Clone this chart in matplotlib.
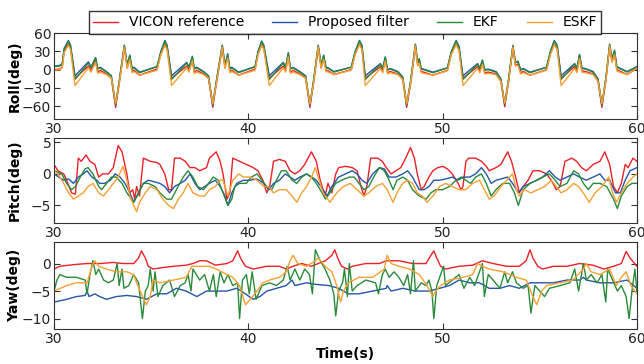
import numpy as np
import matplotlib.pyplot as plt

# ---- data ----
labels = ['VICON reference', 'Proposed filter', 'EKF', 'ESKF']
colors = ['#ec2027', '#2656a8', '#2a8a3a', '#f7a032']

roll_t = [30.0, 30.3, 30.42, 30.52, 30.74, 30.85, 31.08, 31.77, 31.9, 32.14, 32.25, 32.37, 32.7, 32.95, 33.17, 33.35, 33.62, 33.77, 33.9, 34.02, 34.12, 34.4, 35.3, 35.5,
          35.71, 35.82, 36.05, 36.83, 36.95, 37.12, 37.22, 37.35, 37.7, 37.95, 38.17, 38.35, 38.66, 38.8, 38.94, 39.05, 39.15, 39.5, 40.35, 40.5,
          40.69, 40.8, 41.08, 41.8, 41.92, 42.06, 42.17, 42.3, 42.65, 42.95, 43.17, 43.35, 43.6, 43.75, 43.88, 44.0, 44.12, 44.4, 45.3, 45.5,
          45.72, 45.85, 46.02, 46.8, 46.92, 47.05, 47.17, 47.3, 47.7, 47.95, 48.15, 48.35, 48.6, 48.72, 48.8, 48.9, 49.02, 49.5, 50.25, 50.45,
          50.7, 50.85, 51.05, 51.8, 51.92, 52.05, 52.17, 52.35, 52.75, 53.0, 53.2, 53.4, 53.62, 53.75, 53.88, 54.02, 54.15, 54.5, 55.35, 55.55,
          55.75, 55.9, 56.1, 56.8, 56.92, 57.05, 57.17, 57.35, 57.75, 58.0, 58.2, 58.4, 58.6, 58.72, 58.85, 58.97, 59.1, 59.5, 60.0]
roll_vicon = [0, 1, 4, 30, 42, 35, -14, 6, -1, 15, -4, -1, -7, -14, -62, -24, 36, 3, 19, -3, -1, -9, 1, 26,
              42, 35, -14, 6, -1, 17, -4, -1, -7, -14, -62, -24, 36, 3, 21, -3, -1, -9, 1, 26,
              41, 35, -14, 6, -1, 23, -4, -1, -7, -14, -62, -24, 36, 3, 19, -1, -2, -8, 0, 26,
              42, 35, -14, 5, -2, 16, -5, -3, -7, -16, -62, -24, 38, 7, 13, -3, -4, -9, -1, 26,
              42, 33, -14, 5, -2, 11, -5, -4, -7, -19, -61, -19, 36, 7, 9, -5, -3, -9, 0, 26,
              42, 35, -14, 5, -2, 20, -2, -3, -7, -19, -62, -19, 38, 13, 27, 0, -2, -8, 2]
roll_prop = [6, 7, 10, 35, 48, 40, -10, 13, 4, 20, 2, 4, -3, -10, -58, -20, 40, 8, 24, 2, 4, -4, 5, 30,
             48, 40, -10, 12, 4, 22, 2, 4, -3, -10, -58, -20, 40, 8, 26, 2, 4, -4, 5, 30,
             47, 40, -10, 12, 4, 28, 2, 4, -3, -10, -58, -20, 40, 8, 24, 4, 3, -3, 4, 30,
             48, 40, -10, 10, 3, 21, 0, 2, -3, -12, -58, -20, 42, 12, 18, 2, 1, -4, 3, 30,
             48, 38, -10, 10, 3, 16, 0, 1, -3, -15, -57, -15, 40, 12, 14, 0, 2, -4, 4, 30,
             48, 40, -10, 10, 3, 25, 3, 2, -3, -15, -58, -15, 42, 18, 32, 5, 3, -3, 5]
roll_ekf = [5, 6, 9, 33, 47, 39, -16, 11, 3, 19, 1, 3, -4, -11, -57, -20, 40, 7, 23, 1, 3, -5, 5, 29,
            47, 39, -16, 11, 3, 21, 1, 3, -4, -11, -57, -20, 40, 7, 25, 1, 3, -5, 5, 29,
            46, 39, -16, 11, 3, 27, 1, 3, -4, -11, -57, -20, 39, 7, 23, 3, 2, -4, 4, 29,
            47, 39, -16, 9, 2, 20, -1, 1, -4, -13, -57, -20, 41, 11, 17, 1, 0, -5, 3, 29,
            47, 37, -16, 9, 2, 15, -1, 0, -4, -16, -56, -15, 39, 11, 13, -1, 1, -5, 4, 29,
            47, 39, -16, 9, 2, 24, 2, 1, -4, -16, -57, -15, 41, 17, 31, 4, 2, -4, 5]
roll_eskf = [-1, 0, 3, 28, 40, 33, -26, 3, -4, 12, -6, -4, -8, -14, -56, -24, 37, 2, 17, -5, -3, -9, -1, 25,
             40, 33, -26, 3, -4, 15, -6, -4, -8, -14, -56, -24, 37, 2, 19, -5, -3, -9, -1, 25,
             40, 33, -26, 3, -4, 21, -6, -4, -8, -14, -56, -24, 37, 2, 17, -3, -4, -8, -1, 25,
             41, 33, -26, 2, -5, 14, -7, -5, -8, -16, -56, -24, 39, 6, 11, -5, -6, -9, -2, 25,
             41, 31, -26, 2, -5, 9, -7, -6, -8, -19, -55, -19, 37, 6, 7, -7, -5, -9, -1, 25,
             41, 33, -26, 2, -5, 18, -4, -5, -8, -19, -56, -19, 39, 12, 25, -2, -4, -8, 2]

# (time, value) pairs
pitch_vicon = [(30.0, 1.5), (30.2, 0.5), (30.5, 0), (30.65, -1), (30.9, -3), (31.1, -3.2), (31.25, 2.5), (31.4, 2.0),
               (31.65, 3.0), (31.85, 2.0), (32.1, 1.5), (32.3, -0.5), (32.5, 0), (32.8, 0), (33.05, 1.0), (33.3, 4.5),
               (33.5, 3.5), (33.75, 0), (33.9, -3), (34.05, -2.5), (34.15, -4), (34.25, -2), (34.4, -3.5), (34.6, 2.5),
               (34.95, 2), (35.3, 1.8), (35.45, 1.5), (35.7, 0), (35.9, -2.5), (36.05, -2.5), (36.2, 2.5), (36.5, 2.5),
               (36.75, 2.0), (37.0, 1.0), (37.25, 1.0), (37.5, 0.5), (37.85, 1.0), (38.0, 2.5), (38.35, 3.5), (38.55, 2),
               (38.7, 0), (38.9, -4), (39.05, -3), (39.2, 2.5), (39.55, 2), (39.9, 1.5), (40.25, 1.0), (40.5, 0.5),
               (40.75, -1), (40.95, -3), (41.1, -2), (41.3, 2), (41.6, 2.3), (41.9, 2.0), (42.15, 0.5), (42.4, 0),
               (42.65, 0.5), (42.9, 1.5), (43.25, 3.5), (43.5, 2.0), (43.7, -1), (43.95, -3.5), (44.1, -1.5), (44.3, -3),
               (44.5, 0), (44.65, 1.0), (45.0, 1.2), (45.35, 1.0), (45.6, 0.5), (45.8, -2), (45.95, -3.5), (46.1, -2),
               (46.3, 2.5), (46.65, 2.5), (46.9, 2.0), (47.1, 1.0), (47.35, 0), (47.6, 0.5), (47.85, 1.0), (48.1, 2.5),
               (48.35, 4.2), (48.55, 2.5), (48.7, 0), (48.9, -2.5), (49.05, -2), (49.3, -0.5), (49.5, 0.5), (49.75, 1.0),
               (50.0, 1.2), (50.25, 0.8), (50.5, 0), (50.8, -1.5), (50.95, -2.5), (51.05, -2.0), (51.2, 2.0), (51.35, 2.5),
               (51.7, 2.5), (52.0, 2.0), (52.25, 1.2), (52.4, 0.5), (52.75, 1.0), (53.0, 1.5), (53.35, 3.5), (53.55, 2.0),
               (53.8, -1), (53.95, -3), (54.15, -2), (54.4, -1), (54.65, 0.5), (55.0, 0.5), (55.35, 0), (55.6, -1),
               (55.85, -2.5), (56.05, -2), (56.3, 2.0), (56.65, 2.5), (56.9, 2.0), (57.15, 1.0), (57.4, 0.5), (57.75, 1.5),
               (58.1, 2.0), (58.35, 3.5), (58.6, 1.5), (58.8, -2), (59.0, -3), (59.2, -1.5), (59.4, 1.5), (59.55, 1.0),
               (59.8, 2.5), (60.0, 2.0)]
pitch_prop = [(30.0, 0), (30.5, -1), (30.75, -0.8), (31.0, -1.5), (31.25, -0.5), (31.5, 0), (31.7, 0.5), (31.95, -0.5),
              (32.2, -1), (32.35, -1.5), (32.6, -1.5), (32.9, -1), (33.15, 0), (33.4, -0.5), (33.65, -1.5), (33.9, -3),
              (34.1, -4.5), (34.35, -3), (34.6, -1.5), (34.85, -1), (35.1, -1.2), (35.45, -1.5), (35.7, -2), (35.95, -3),
              (36.2, -2), (36.5, -1.5), (36.75, -1), (37.0, 0), (37.25, -1.5), (37.5, -2.5), (37.75, -2), (38.0, -1.5),
              (38.3, -1), (38.55, -2), (38.8, -3.5), (38.95, -5), (39.15, -3), (39.4, -1.5), (39.75, -1), (40.1, -1),
              (40.45, -0.8), (40.8, -1.5), (41.05, -2.5), (41.3, -1.5), (41.6, -1), (41.9, 0), (42.15, -0.5), (42.4, -1),
              (42.65, -0.5), (43.0, 0), (43.25, -0.5), (43.5, -1), (43.85, -2.5), (44.05, -3.5), (44.3, -2), (44.65, -0.5),
              (45.0, 0), (45.35, 0.5), (45.6, 0), (45.85, -1), (46.1, -1.5), (46.4, 0), (46.75, 1.0), (47.0, 0.8),
              (47.25, -0.5), (47.6, -0.5), (47.95, 0), (48.2, 0.5), (48.45, -0.5), (48.8, -2.5), (49.05, -2.5), (49.3, -2),
              (49.55, -1), (49.85, -1), (50.15, -0.8), (50.5, -0.5), (50.8, -1), (51.05, -0.5), (51.4, -0.5), (51.7, 0),
              (52.0, 1.0), (52.25, 0), (52.5, -1.5), (52.75, -1), (53.0, -0.8), (53.35, -0.5), (53.6, -1.5), (53.9, -3),
              (54.15, -2), (54.5, -1.5), (54.85, -1), (55.15, -0.5), (55.5, 0.5), (55.8, -0.5), (56.05, -1), (56.4, -0.5),
              (56.75, 0), (57.05, -0.5), (57.4, -1.0), (57.75, -0.5), (58.1, 0), (58.35, -1), (58.6, -1), (58.9, -3),
              (59.15, -3), (59.4, -1), (59.65, 0.5), (60.0, 1.0)]
pitch_ekf = [(30.0, 0.5), (30.4, 0), (30.65, -1.5), (30.9, -2.5), (31.1, -2), (31.35, -0.5), (31.6, 0.8), (31.75, 1.0),
             (32.0, 0), (32.3, -2), (32.45, -2.5), (32.7, -1.5), (32.95, -0.5), (33.2, -0.5), (33.5, -1.5), (33.75, -3),
             (34.1, -4.5), (34.35, -3), (34.6, -1.5), (34.85, -1.5), (35.2, -2), (35.45, -3), (35.8, -4), (36.05, -4),
             (36.3, -2.5), (36.65, -0.5), (36.9, 0.5), (37.15, -0.5), (37.4, -2), (37.7, -2.5), (37.95, -1.5), (38.2, -0.5),
             (38.45, -1), (38.7, -3), (38.95, -5), (39.15, -4), (39.3, -2), (39.55, -1.5), (39.9, -1.5), (40.15, -0.5),
             (40.45, 0), (40.7, -1), (40.95, -2), (41.2, -2.5), (41.45, -1), (41.7, 0.5), (41.95, 0.5), (42.25, -1),
             (42.5, -1.5), (42.75, -0.5), (43.0, 0), (43.25, -0.5), (43.5, -1.5), (43.8, -3), (43.97, -4), (44.2, -3),
             (44.5, -1.5), (44.8, -1), (45.2, -0.5), (45.45, -0.5), (45.7, -1.5), (45.95, -2.5), (46.2, -2), (46.45, -0.5),
             (46.75, 1.0), (47.0, 0.5), (47.25, -1), (47.45, -2.5), (47.65, -1), (47.95, -0.5), (48.2, -1), (48.45, -2.5),
             (48.8, -3.5), (49.15, -4), (49.4, -3), (49.65, -2.5), (50.0, -2.5), (50.35, -2), (50.7, -1), (50.95, -0.5),
             (51.2, -1), (51.45, -1.5), (51.7, -0.5), (52.0, 0), (52.25, -1.5), (52.5, -3.5), (52.75, -2.5), (53.1, -1.5),
             (53.45, -1.5), (53.7, -3), (53.9, -5), (54.15, -2.5), (54.5, -1.5), (54.85, -1), (55.15, -0.5), (55.5, 0),
             (55.8, -1), (56.05, -2), (56.4, -1.5), (56.75, 0.5), (57.0, 0), (57.25, -1.5), (57.5, -2.5), (57.75, -1.5),
             (58.1, -1.5), (58.45, -2), (58.8, -4), (59.0, -5.5), (59.2, -3.5), (59.5, -2), (59.75, -1.5), (60.0, -1.5)]
pitch_eskf = [(30.0, 0.5), (30.2, 0), (30.5, -1.5), (30.75, -3), (31.0, -4), (31.25, -3.5), (31.5, -3), (31.75, -2),
              (32.0, -1.5), (32.3, -3), (32.55, -3.5), (32.8, -2.5), (33.05, -1.5), (33.3, -0.5), (33.55, 1.2), (33.75, -1),
              (33.9, -3.5), (34.1, -5), (34.25, -6), (34.4, -4.5), (34.7, -3), (34.95, -2), (35.3, -2.5), (35.6, -4),
              (35.9, -5), (36.15, -5.5), (36.4, -4), (36.65, -3), (36.9, -1.5), (37.15, -3), (37.5, -3.5), (37.75, -3.5),
              (38.0, -2.5), (38.3, -2), (38.55, -1), (38.7, -1), (38.95, -3.5), (39.2, -1), (39.5, 0), (39.75, -0.5),
              (40.1, -0.5), (40.45, -1), (40.8, -2), (41.05, -2), (41.3, -3), (41.6, -2.5), (41.95, -2.5), (42.25, -3.5),
              (42.5, -4.5), (42.75, -3), (43.0, -2), (43.25, -0.5), (43.45, 1.0), (43.6, -0.5), (43.85, -3), (44.2, -4.5),
              (44.55, -3), (44.9, -2), (45.25, -1.5), (45.6, -2.5), (45.95, -3.5), (46.2, -3), (46.55, -2), (46.9, -1.5),
              (47.15, -2.5), (47.45, -4.5), (47.65, -3), (47.95, -1.5), (48.2, -1), (48.45, -1.5), (48.7, -3), (48.95, -3.5),
              (49.2, -4.5), (49.5, -3.5), (49.85, -2), (50.15, -1.5), (50.5, -2), (50.85, -2.5), (51.2, -2.5), (51.55, -1.5),
              (51.9, -1), (52.15, -2.5), (52.4, -4), (52.65, -3.5), (53.0, -2), (53.3, -1), (53.6, 0), (53.8, -2.5),
              (53.95, -3.5), (54.2, -2.5), (54.55, -3), (54.9, -2.5), (55.25, -2), (55.6, -1), (55.85, -2), (56.1, -3),
              (56.4, -2.5), (56.75, -1.5), (57.0, -2), (57.35, -3.5), (57.55, -4.5), (57.85, -3), (58.2, -2), (58.55, -0.5),
              (58.75, -3), (58.95, -4.5), (59.2, -3), (59.5, -1.5), (59.8, -0.5), (60.0, 0)]

yaw_vicon = [(30.0, -1), (30.3, -0.5), (31.0, -0.2), (31.7, 0), (32.4, 0), (33.05, 0.2), (33.55, 0), (34.1, 0),
             (34.35, 1.0), (34.5, 2.3), (34.7, 1.0), (34.85, -0.5), (35.1, -1), (35.45, -0.8), (36.15, -0.5), (36.8, -0.3),
             (37.15, 0), (37.5, 0.5), (37.85, 0.5), (38.3, -0.3), (38.9, 0), (39.2, 0.5), (39.45, 2.3), (39.6, 1.0),
             (39.85, -0.5), (40.25, -1), (40.95, -0.5), (41.6, -0.5), (41.95, -1), (42.3, -0.5), (42.75, 0), (43.25, -0.5),
             (43.6, 0), (43.97, 0.5), (44.3, 1.5), (44.45, 2.5), (44.6, 1), (44.8, -0.5), (45.1, -1), (45.35, -0.5),
             (46.05, 0), (46.75, 0), (47.1, 0.5), (47.75, 0.5), (48.45, 0), (49.15, 0), (49.4, 1.5), (49.55, 2.3),
             (49.7, 1.0), (49.9, -0.5), (50.15, -1), (50.85, -0.5), (51.55, -0.3), (52.05, 0.5), (52.6, 0), (53.3, -0.5),
             (53.95, -0.5), (54.3, 0.5), (54.5, 2.5), (54.65, 1.0), (54.9, -0.5), (55.15, -1), (55.7, -0.5), (56.4, -0.5),
             (57.05, 0), (57.75, -0.3), (58.3, -1), (58.8, -0.5), (59.2, 0), (59.45, 2.2), (59.65, 1.0), (60.0, -0.5)]
yaw_prop = [(30.0, -7), (30.65, -6.5), (31.15, -6), (31.6, -5.8), (31.7, -5), (31.8, -6), (32.1, -5.5), (32.35, -6),
            (32.7, -6.5), (33.2, -6), (33.75, -5.8), (34.25, -6), (34.75, -6.5), (35.3, -5.5), (35.8, -5.5), (36.3, -4.5),
            (36.8, -5), (37.35, -6), (37.85, -5), (38.35, -5), (38.9, -5), (39.4, -4.5), (39.85, -5.5), (40.25, -6.5),
            (40.6, -6), (40.95, -5), (41.45, -4.5), (41.95, -4), (42.25, -3), (42.4, -4), (43.0, -3.5), (43.5, -3.8),
            (44.15, -4), (44.65, -4.5), (45.15, -5.5), (45.7, -5.5), (46.4, -5), (47.1, -4.5), (47.15, -4), (47.35, -5),
            (47.95, -4.5), (48.6, -5), (49.3, -5), (49.85, -4.5), (50.35, -4), (50.85, -3), (51.4, -3.5), (51.9, -3.5),
            (52.4, -4.5), (52.95, -4.5), (53.45, -4), (53.95, -4.5), (54.5, -3.5), (55.0, -3.5), (55.7, -3.5), (56.4, -3),
            (57.05, -3), (57.25, -2.5), (57.4, -3), (58.1, -3.5), (58.8, -3.5), (59.5, -3), (60.0, -4.5)]
yaw_ekf = [(30.0, -5), (30.15, -3), (30.3, -2), (30.65, -2.5), (31.15, -2.5), (31.6, -3), (31.7, -5.5), (31.85, -2),
           (32.0, 0.5), (32.15, -2), (32.3, -1), (32.55, -3), (32.8, -3.5), (33.05, -3), (33.25, 0), (33.35, -4),
           (33.5, -1), (33.6, -4.5), (33.85, -4), (34.1, -2), (34.35, -3.5), (34.55, -10), (34.7, -5), (34.85, -4),
           (34.95, -1), (35.1, -5), (35.2, -1.5), (35.35, -6), (35.6, -4), (35.95, -3), (36.2, -6), (36.5, -4),
           (36.75, -3.5), (36.9, -2), (37.05, -5), (37.15, -1), (37.5, -3), (37.75, -2), (38.0, -5), (38.2, -2),
           (38.35, -6), (38.55, -1.5), (38.75, -3.5), (38.95, -2), (39.2, -4), (39.45, -3.5), (39.55, -10), (39.7, -3),
           (39.9, -2), (40.05, -5.5), (40.2, -1.5), (40.4, -6.5), (40.7, -4), (41.1, -3.5), (41.45, -4), (41.8, -3),
           (42.0, -0.5), (42.15, -3), (42.4, -1), (42.65, -3), (42.9, -1), (43.15, -2), (43.3, -5.5), (43.45, 2.5),
           (43.7, 0.5), (43.95, -1), (44.2, -3), (44.4, -5.5), (44.5, -9.5), (44.65, -5), (44.85, -3.5), (44.95, -1),
           (45.1, -6), (45.2, 0), (45.35, -5), (45.6, -4), (46.05, -3), (46.55, -3.5), (46.7, -5.5), (46.9, -2),
           (47.05, -1), (47.25, -2.5), (47.5, -1.5), (47.75, -2.5), (48.0, -4), (48.2, -2), (48.35, -5.5), (48.5, 0.5),
           (48.6, -5), (48.9, -3.5), (49.15, -4), (49.3, -3), (49.45, -5), (49.55, -10), (49.7, -4), (49.9, -2),
           (50.05, -0.5), (50.15, -4), (50.5, -3), (50.85, -2), (51.1, -4.5), (51.4, -2.5), (51.65, -4), (51.9, -1.5),
           (52.05, 0), (52.15, -6), (52.35, -2), (52.6, -3), (52.95, -4.5), (53.2, -1.5), (53.35, -3.5), (53.6, -1.5),
           (53.8, -3.5), (54.15, -4.5), (54.4, -4), (54.55, -9), (54.75, -4), (55.0, -5), (55.25, -6), (55.5, -4.5),
           (56.05, -4), (56.55, -3.5), (56.8, -1), (57.0, -5), (57.25, 0), (57.4, -3), (57.65, -2), (57.95, -3.5),
           (58.2, -2), (58.4, -7), (58.5, -1), (58.75, -3), (59.0, -5), (59.2, -4), (59.45, -6), (59.6, -10),
           (59.75, -5), (59.9, -1), (60.0, -5)]
yaw_eskf = [(30.0, -5), (30.65, -4), (31.15, -3.5), (31.6, -3.5), (31.7, -3.5), (31.95, -0.5), (32.1, 0.5), (32.3, -0.5),
            (32.7, -1), (33.2, -1.5), (33.75, -1.5), (34.1, -2), (34.25, -3.5), (34.5, -5.5), (34.75, -7.5), (34.95, -6),
            (35.1, -3), (35.45, -3.5), (36.15, -3), (36.8, -2.5), (37.1, -0.5), (37.35, -0.5), (37.7, -0.5), (38.0, -0.5),
            (38.35, -1), (38.9, -2), (39.2, -2.5), (39.55, -4), (39.85, -7.5), (40.1, -6.5), (40.45, -5), (40.75, -3.5),
            (41.1, -3), (41.6, -2.5), (41.95, -1.5), (42.15, 0.5), (42.3, 1.5), (42.55, 0), (43.0, -0.5), (43.45, 0.5),
            (43.6, 1.0), (43.95, -0.5), (44.3, -1.5), (44.55, -4), (44.75, -7), (44.9, -5), (45.15, -3.5), (45.7, -2.5),
            (46.4, -2.5), (47.0, -1), (47.15, 1.5), (47.35, 0), (47.75, -0.5), (48.3, -1), (48.8, -2), (49.2, -4),
            (49.5, -6), (49.65, -5), (49.9, -4), (50.35, -3), (51.05, -2.5), (51.55, -2), (51.8, 0), (52.05, -0.5),
            (52.4, -1), (53.1, -1.5), (53.8, -2.5), (54.3, -3), (54.65, -6), (54.85, -7.5), (55.1, -5), (55.35, -4),
            (56.05, -3.5), (56.7, -3), (57.25, -1), (57.4, 0), (57.65, -1.5), (58.1, -2), (58.6, -1), (58.95, -4),
            (59.2, -2.5), (59.45, -1.5), (59.7, -4), (60.0, -5.5)]

# ---- figure ----
fig = plt.figure(figsize=(6.44, 3.64), dpi=100)
ax1 = fig.add_axes([0.0839, 0.673, 0.905, 0.236])
ax2 = fig.add_axes([0.0839, 0.387, 0.905, 0.234])
ax3 = fig.add_axes([0.0839, 0.096, 0.905, 0.239])

lines = []
for vals, c, lab in zip([roll_vicon, roll_prop, roll_ekf, roll_eskf], colors, labels):
    l, = ax1.plot(roll_t, vals, color=c, lw=1.0, label=lab)
    lines.append(l)

for ser, c in zip([pitch_vicon, pitch_prop, pitch_ekf, pitch_eskf], colors):
    t, v = np.array(ser).T
    ax2.plot(t, v, color=c, lw=1.0)

for ser, c in zip([yaw_vicon, yaw_prop, yaw_ekf, yaw_eskf], colors):
    t, v = np.array(ser).T
    ax3.plot(t, v, color=c, lw=1.0)

ax1.set_ylim(-81, 60)
ax1.set_yticks([-60, -30, 0, 30, 60])
ax2.set_ylim(-7.8, 5.7)
ax2.set_yticks([-5, 0, 5])
ax3.set_ylim(-11.9, 3.9)
ax3.set_yticks([-10, -5, 0])

for ax, name in zip([ax1, ax2, ax3], ['Roll(deg)', 'Pitch(deg)', 'Yaw(deg)']):
    ax.set_xlim(30, 60)
    ax.set_xticks([30, 40, 50, 60])
    ax.tick_params(direction='in', top=True, right=True, labelsize=10, length=4, pad=2,
                   color='#333333', labelcolor='#222222')
    ax.set_ylabel(name, fontsize=10, fontweight='bold')
    ax.yaxis.set_label_coords(-0.056, 0.5)
    for s in ax.spines.values():
        s.set_linewidth(0.8)
        s.set_color('#333333')

ax3.set_xlabel('Time(s)', fontsize=10, fontweight='bold', labelpad=1)

fig.legend(handles=lines, loc='upper center', bbox_to_anchor=(0.536, 0.988), ncol=4,
           fontsize=10, frameon=True, fancybox=False, edgecolor='black',
           handlelength=1.8, columnspacing=2.0, borderpad=0.3)

fig.savefig('out.png', dpi=100)
plt.close()
